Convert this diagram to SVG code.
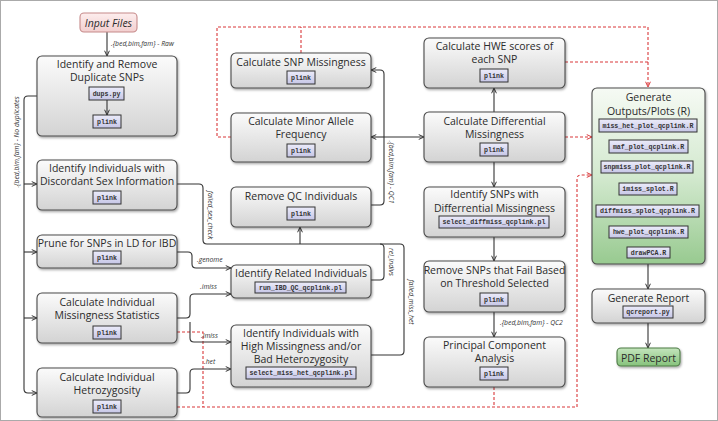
<svg xmlns="http://www.w3.org/2000/svg" width="718" height="421" viewBox="0 0 718 421">
<defs>
<linearGradient id="gGray" x1="0" y1="0" x2="0" y2="1"><stop offset="0" stop-color="#fbfbfb"/><stop offset="1" stop-color="#d3d3d3"/></linearGradient>
<linearGradient id="gLav" x1="0" y1="0" x2="0" y2="1"><stop offset="0" stop-color="#ececfa"/><stop offset="1" stop-color="#c6c6e6"/></linearGradient>
<linearGradient id="gGreen" x1="0" y1="0" x2="0" y2="1"><stop offset="0" stop-color="#f6faf4"/><stop offset="0.5" stop-color="#d3e9cf"/><stop offset="1" stop-color="#98ca90"/></linearGradient>
<linearGradient id="gPdf" x1="0" y1="0" x2="0" y2="1"><stop offset="0" stop-color="#c4e5bd"/><stop offset="1" stop-color="#86c27b"/></linearGradient>
<linearGradient id="gPink" x1="0" y1="0" x2="0" y2="1"><stop offset="0" stop-color="#fdeeee"/><stop offset="1" stop-color="#f3cfcf"/></linearGradient>
<filter id="sh" x="-10%" y="-10%" width="130%" height="140%"><feDropShadow dx="1" dy="1.5" stdDeviation="1.2" flood-color="#000" flood-opacity="0.35"/></filter>
<marker id="arr" viewBox="0 0 8 8" refX="7.5" refY="4" markerWidth="6" markerHeight="6" orient="auto" markerUnits="userSpaceOnUse"><path d="M0.5,0.8 L7.5,4 L0.5,7.2" fill="none" stroke="#333" stroke-width="1.3"/></marker>
<marker id="arrR" viewBox="0 0 8 8" refX="7.5" refY="4" markerWidth="6" markerHeight="6" orient="auto" markerUnits="userSpaceOnUse"><path d="M0.5,0.8 L7.5,4 L0.5,7.2" fill="none" stroke="#d9383a" stroke-width="1.3"/></marker>
<style>
.box{fill:url(#gGray);stroke:#4a4a4a;stroke-width:1.1;filter:url(#sh)}
.scr{fill:url(#gLav);stroke:#333;stroke-width:1}
.t{font-family:"Open Sans","Noto Sans",sans-serif;font-size:10.5px;fill:#2b2b2b;text-anchor:middle}
.m{font-family:"Liberation Mono","DejaVu Sans Mono",monospace;font-size:6.6px;font-weight:bold;fill:#333;text-anchor:middle}
.lb{font-family:"Open Sans","Noto Sans",sans-serif;font-size:6.8px;font-style:italic;fill:#333}
.c{fill:none;stroke:#333;stroke-width:1.1;stroke-linejoin:round}
.r{fill:none;stroke:#d9383a;stroke-width:1.1;stroke-dasharray:3 2}
</style>
</defs>
<rect x="0.5" y="0.5" width="717" height="420" fill="#fff" stroke="#aaa" stroke-width="1"/>

<g id="connectors">
<path class="r" d="M231,137 H217 V27 H648 V87" marker-end="url(#arrR)"/>
<path class="r" d="M301,53 V27"/>
<path class="r" d="M565,62 H648"/>
<path class="r" d="M565,137 H592" marker-end="url(#arrR)"/>
<path class="r" d="M177,332 H203 V407"/>
<path class="r" d="M177,407 H577 V179 Q577,175 581,175 H592" marker-end="url(#arrR)"/>
<path class="r" d="M494,387 V407"/>

<path class="c" d="M107,32 V56" marker-end="url(#arr)"/>
<path class="c" d="M37,96 H28 Q24,96 24,100 V389 Q24,393 28,393 H37" marker-end="url(#arr)"/>
<path class="c" d="M24,184 H37" marker-end="url(#arr)"/>
<path class="c" d="M24,252 H37" marker-end="url(#arr)"/>
<path class="c" d="M24,318 H37" marker-end="url(#arr)"/>
<path class="c" d="M177,184 H199 Q203,184 203,188 V240 Q203,244 207,244 H400 Q404,244 404,248 V351 Q404,355 400,355 H371"/>
<path class="c" d="M371,280 H380 Q384,280 384,276 V248 Q384,244 380,244"/>
<path class="c" d="M300,244 V227" marker-end="url(#arr)"/>
<path class="c" d="M371,205 H380 Q384,205 384,201 V74 Q384,70 380,70 H371" marker-end="url(#arr)"/>
<path class="c" d="M384,137 H371" marker-end="url(#arr)"/>
<path class="c" d="M384,137 H424" marker-end="url(#arr)"/>
<path class="c" d="M494,112 V88" marker-end="url(#arr)"/>
<path class="c" d="M494,162 V187" marker-end="url(#arr)"/>
<path class="c" d="M494,237 V261" marker-end="url(#arr)"/>
<path class="c" d="M494,312 V337" marker-end="url(#arr)"/>
<path class="c" d="M177,252 H188 Q192,252 192,256 V264 Q192,268 196,268 H231" marker-end="url(#arr)"/>
<path class="c" d="M177,318 H186 Q190,318 190,314 V298 Q190,294 194,294 H231" marker-end="url(#arr)"/>
<path class="c" d="M190,322 V338 Q190,342 194,342 H231" marker-end="url(#arr)"/>
<path class="c" d="M177,393 H186 Q190,393 190,389 V373 Q190,369 194,369 H231" marker-end="url(#arr)"/>
<path class="c" d="M648,264 V289" marker-end="url(#arr)"/>
<path class="c" d="M648,323 V348" marker-end="url(#arr)"/>

<text class="lb" x="111" y="46">.{bed,bim,fam} - Raw</text>
<text class="lb" transform="translate(19,142) rotate(-90)" text-anchor="middle">.{bed,bim,fam} - No duplicates</text>
<text class="lb" transform="translate(208,215) rotate(90)" text-anchor="middle">failed_sex_check</text>
<text class="lb" x="197" y="262">.genome</text>
<text class="lb" x="200" y="289">.imiss</text>
<text class="lb" x="201" y="338">.imiss</text>
<text class="lb" x="204" y="364">.het</text>
<text class="lb" transform="translate(389,172) rotate(90)" text-anchor="middle">.{bed,bim,fam} - QC1</text>
<text class="lb" transform="translate(389,262) rotate(90)" text-anchor="middle">rel_indivs</text>
<text class="lb" transform="translate(409,302) rotate(90)" text-anchor="middle">failed_miss_het</text>
<text class="lb" x="500" y="325">.{bed,bim,fam} - QC2</text>
</g>

<g id="input-files">
<rect x="80" y="13" width="57" height="19" rx="4" fill="url(#gPink)" stroke="#c68a8a" stroke-width="1.1"/>
<text class="t" x="108.5" y="26.5" font-style="italic" font-size="10.5">Input Files</text>
</g>

<g id="dup-snps">
<rect class="box" x="37" y="56" width="140" height="80" rx="5"/>
<text class="t" x="107" y="68">Identify and Remove</text>
<text class="t" x="107" y="81">Duplicate SNPs</text>
<rect class="scr" x="89" y="87" width="35" height="13"/><text class="m" x="106.5" y="95.5">dups.py</text>
<path class="c" d="M107,100 V115" marker-end="url(#arr)"/>
<rect class="scr" x="93" y="115" width="28" height="13"/><text class="m" x="107" y="123.5">plink</text>
</g>

<g id="sex-check">
<rect class="box" x="37" y="160" width="140" height="50" rx="5"/>
<text class="t" x="107" y="172">Identify Individuals with</text>
<text class="t" x="107" y="185">Discordant Sex Information</text>
<rect class="scr" x="93" y="191" width="28" height="13"/><text class="m" x="107" y="199.5">plink</text>
</g>

<g id="prune-ld">
<rect class="box" x="37" y="235" width="140" height="33" rx="5"/>
<text class="t" x="107" y="247">Prune for SNPs in LD for IBD</text>
<rect class="scr" x="93" y="251" width="28" height="13"/><text class="m" x="107" y="259.5">plink</text>
</g>

<g id="indiv-missingness">
<rect class="box" x="37" y="293" width="140" height="50" rx="5"/>
<text class="t" x="107" y="305.5">Calculate Individual</text>
<text class="t" x="107" y="318.5">Missingness Statistics</text>
<rect class="scr" x="93" y="326" width="28" height="13"/><text class="m" x="107" y="334.5">plink</text>
</g>

<g id="indiv-het">
<rect class="box" x="37" y="368" width="140" height="49" rx="5"/>
<text class="t" x="107" y="380.5">Calculate Individual</text>
<text class="t" x="107" y="393.5">Hetrozygosity</text>
<rect class="scr" x="93" y="400" width="28" height="13"/><text class="m" x="107" y="408.5">plink</text>
</g>

<g id="snp-missingness">
<rect class="box" x="231" y="53" width="140" height="35" rx="5"/>
<text class="t" x="301" y="65.5">Calculate SNP Missingness</text>
<rect class="scr" x="287" y="71" width="28" height="13"/><text class="m" x="301" y="79.5">plink</text>
</g>

<g id="maf">
<rect class="box" x="231" y="113" width="140" height="49" rx="5"/>
<text class="t" x="301" y="125">Calculate Minor Allele</text>
<text class="t" x="301" y="138">Frequency</text>
<rect class="scr" x="287" y="144" width="28" height="13"/><text class="m" x="301" y="152.5">plink</text>
</g>

<g id="remove-qc">
<rect class="box" x="231" y="187" width="140" height="40" rx="5"/>
<text class="t" x="301" y="200">Remove QC Individuals</text>
<rect class="scr" x="287" y="207" width="28" height="13"/><text class="m" x="301" y="215.5">plink</text>
</g>

<g id="related">
<rect class="box" x="231" y="265" width="140" height="33" rx="5"/>
<text class="t" x="301" y="277">Identify Related Individuals</text>
<rect class="scr" x="255" y="282" width="91" height="11"/><text class="m" x="300.5" y="289.8">run_IBD_QC_qcplink.pl</text>
</g>

<g id="miss-het">
<rect class="box" x="231" y="325" width="140" height="62" rx="5"/>
<text class="t" x="301" y="336.5">Identify Individuals with</text>
<text class="t" x="301" y="349.5">High Missingness and/or</text>
<text class="t" x="301" y="362.5">Bad Heterozygosity</text>
<rect class="scr" x="246" y="367" width="110" height="12"/><text class="m" x="301" y="375.3">select_miss_het_qcplink.pl</text>
</g>

<g id="hwe">
<rect class="box" x="424" y="38" width="141" height="50" rx="5"/>
<text class="t" x="494.5" y="50">Calculate HWE scores of</text>
<text class="t" x="494.5" y="63">each SNP</text>
<rect class="scr" x="480" y="69" width="28" height="13"/><text class="m" x="494" y="77.5">plink</text>
</g>

<g id="diff-miss">
<rect class="box" x="424" y="112" width="141" height="50" rx="5"/>
<text class="t" x="494.5" y="124.5">Calculate Differential</text>
<text class="t" x="494.5" y="137.5">Missingness</text>
<rect class="scr" x="480" y="143" width="28" height="13"/><text class="m" x="494" y="151.5">plink</text>
</g>

<g id="identify-diff">
<rect class="box" x="424" y="187" width="141" height="50" rx="5"/>
<text class="t" x="494.5" y="198">Identify SNPs with</text>
<text class="t" x="494.5" y="211.5">Differrential Missingness</text>
<rect class="scr" x="439" y="216" width="110" height="12"/><text class="m" x="494" y="224.3">select_diffmiss_qcplink.pl</text>
</g>

<g id="remove-snps">
<rect class="box" x="424" y="261" width="141" height="51" rx="5"/>
<text class="t" x="494.5" y="273.5">Remove SNPs that Fail Based</text>
<text class="t" x="494.5" y="287">on Threshold Selected</text>
<rect class="scr" x="480" y="293" width="28" height="13"/><text class="m" x="494" y="301.5">plink</text>
</g>

<g id="pca">
<rect class="box" x="424" y="337" width="141" height="50" rx="5"/>
<text class="t" x="494.5" y="349">Principal Component</text>
<text class="t" x="494.5" y="362">Analysis</text>
<rect class="scr" x="480" y="367" width="28" height="13"/><text class="m" x="494" y="375.5">plink</text>
</g>

<g id="outputs">
<rect x="592" y="88" width="113" height="176" rx="5" fill="url(#gGreen)" stroke="#4a4a4a" stroke-width="1.1" filter="url(#sh)"/>
<text class="t" x="648.5" y="101" font-size="11.5">Generate</text>
<text class="t" x="648.5" y="114.5" font-size="11.5">Outputs/Plots (R)</text>
<rect class="scr" x="599" y="119" width="98" height="13"/><text class="m" x="648" y="127.5">miss_het_plot_qcplink.R</text>
<rect class="scr" x="609" y="140" width="79" height="13"/><text class="m" x="648.5" y="148.5">maf_plot_qcplink.R</text>
<rect class="scr" x="601" y="161" width="92" height="12"/><text class="m" x="647" y="169.3">snpmiss_plot_qcplink.R</text>
<rect class="scr" x="619" y="183" width="58" height="12"/><text class="m" x="648" y="191.3">imiss_splot.R</text>
<rect class="scr" x="596" y="205" width="103" height="12"/><text class="m" x="647.5" y="213.3">diffmiss_splot_qcplink.R</text>
<rect class="scr" x="609" y="226" width="79" height="12"/><text class="m" x="648.5" y="234.3">hwe_plot_qcplink.R</text>
<rect class="scr" x="627" y="247" width="43" height="11"/><text class="m" x="648.5" y="254.8">drawPCA.R</text>
</g>

<g id="report">
<rect class="box" x="592" y="289" width="113" height="34" rx="5"/>
<text class="t" x="648.5" y="301.5" font-size="11">Generate Report</text>
<rect class="scr" x="623" y="306" width="50" height="12"/><text class="m" x="648" y="314.3">qcreport.py</text>
</g>

<g id="pdf-report">
<rect x="617" y="348" width="63" height="18" rx="4" fill="url(#gPdf)" stroke="#4d7a45" stroke-width="1.1" filter="url(#sh)"/>
<text class="t" x="648.5" y="361.5" font-size="11.5" fill="#223">PDF Report</text>
</g>
</svg>
